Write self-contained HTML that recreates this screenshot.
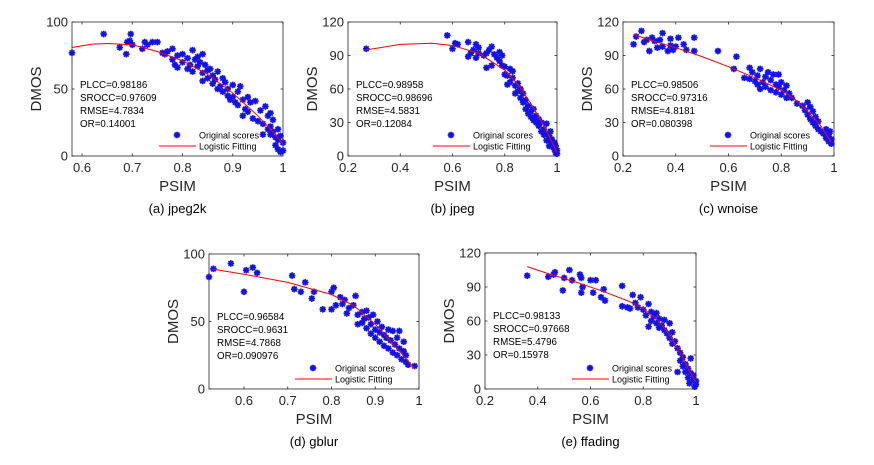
<!DOCTYPE html>
<html><head><meta charset="utf-8"><style>
html,body{margin:0;padding:0;background:#fff;}
svg{display:block;font-family:"Liberation Sans",Arial,sans-serif;}
</style></head><body>
<svg id="chart" width="874" height="465" viewBox="0 0 874 465" xmlns="http://www.w3.org/2000/svg"></svg>
<script>
// ---- data ----
const panelNames = ["(a) jpeg2k","(b) jpeg","(c) wnoise","(d) gblur","(e) ffading"];
const statsA = ["PLCC=0.98186","SROCC=0.97609","RMSE=4.7834","OR=0.14001"];
const statsB = ["PLCC=0.98958","SROCC=0.98696","RMSE=4.5831","OR=0.12084"];
const statsC = ["PLCC=0.98506","SROCC=0.97316","RMSE=4.8181","OR=0.080398"];
const statsD = ["PLCC=0.96584","SROCC=0.9631","RMSE=4.7868","OR=0.090976"];
const statsE = ["PLCC=0.98133","SROCC=0.97668","RMSE=5.4796","OR=0.15978"];
const xTicksA = [0.6,0.7,0.8,0.9,1];
const xTicksB = [0.2,0.4,0.6,0.8,1];
const xTicksD = [0.6,0.7,0.8,0.9,1];
const yTicks100 = [0,50,100];
const yTicks120 = [0,30,60,90,120];

const pointsA = [[0.58,77],[0.643,91],[0.675,81],[0.688,76],[0.69,85],[0.695,86],[0.697,91],[0.70,83],[0.72,80],[0.725,85],[0.73,83],[0.74,85],[0.75,85],[0.76,77],[0.765,76],[0.77,78],[0.78,80],[0.78,72],[0.785,68],[0.79,66],[0.79,75],[0.80,76],[0.80,70],[0.81,73],[0.81,65],[0.815,68],[0.82,79],[0.82,63],[0.825,72],[0.83,74],[0.83,67],[0.835,70],[0.84,76],[0.84,62],[0.84,56],[0.845,68],[0.85,64],[0.85,58],[0.855,65],[0.86,60],[0.86,54],[0.865,57],[0.87,63],[0.87,50],[0.875,52],[0.88,58],[0.88,48],[0.885,55],[0.89,45],[0.89,50],[0.895,42],[0.90,53],[0.90,44],[0.905,40],[0.91,48],[0.91,38],[0.915,52],[0.92,42],[0.92,30],[0.925,35],[0.93,44],[0.93,33],[0.935,40],[0.94,28],[0.945,41],[0.95,26],[0.955,34],[0.96,24],[0.965,37],[0.97,30],[0.97,20],[0.975,32],[0.975,22],[0.98,18],[0.98,27],[0.985,14],[0.985,8],[0.99,12],[0.99,5],[0.995,15],[0.995,3],[1,10],[1,4],[0.975,16],[0.99,20],[0.96,16]];
const fitA = [[0.58,81],[0.62,83.5],[0.65,84],[0.7,83],[0.75,78],[0.8,71],[0.85,61],[0.9,47],[0.95,30],[0.98,18],[1,9]];

const pointsB = [[0.27,96],[0.58,108],[0.60,96],[0.61,101],[0.62,100],[0.66,102],[0.66,89],[0.67,92],[0.68,95],[0.69,100],[0.69,88],[0.70,92],[0.70,97],[0.72,90],[0.73,92],[0.73,79],[0.74,95],[0.75,98],[0.75,81],[0.76,91],[0.77,88],[0.78,93],[0.78,85],[0.79,90],[0.79,81],[0.80,73],[0.80,80],[0.81,72],[0.81,64],[0.82,78],[0.82,66],[0.83,76],[0.83,70],[0.84,63],[0.84,56],[0.85,65],[0.85,58],[0.86,52],[0.86,60],[0.87,48],[0.87,56],[0.88,50],[0.88,42],[0.89,45],[0.89,38],[0.90,40],[0.90,35],[0.91,42],[0.91,32],[0.92,30],[0.92,36],[0.93,27],[0.93,33],[0.94,30],[0.94,22],[0.95,24],[0.95,19],[0.96,20],[0.96,29],[0.97,14],[0.97,18],[0.975,22],[0.98,10],[0.98,15],[0.985,8],[0.99,6],[0.99,12],[0.995,3],[1,2],[1,5],[0.995,9],[0.97,9],[0.96,14]];
const fitB = [[0.27,95],[0.4,100],[0.52,101],[0.6,99],[0.7,92],[0.8,77],[0.85,64],[0.9,47],[0.95,27],[0.98,13],[1,3]];

const pointsC = [[0.24,100],[0.25,107],[0.27,112],[0.28,102],[0.29,104],[0.30,94],[0.31,106],[0.32,103],[0.33,97],[0.34,104],[0.35,110],[0.35,98],[0.37,94],[0.38,105],[0.38,99],[0.39,95],[0.40,98],[0.41,106],[0.43,100],[0.44,95],[0.47,106],[0.47,94],[0.56,94],[0.62,78],[0.63,89],[0.66,70],[0.68,69],[0.68,79],[0.69,75],[0.70,67],[0.71,72],[0.71,64],[0.72,60],[0.72,78],[0.73,66],[0.74,62],[0.74,71],[0.75,75],[0.76,68],[0.76,59],[0.77,73],[0.78,64],[0.78,57],[0.79,73],[0.79,62],[0.80,66],[0.80,55],[0.81,59],[0.82,63],[0.82,52],[0.83,56],[0.84,52],[0.86,47],[0.88,45],[0.89,41],[0.90,48],[0.90,37],[0.91,44],[0.91,33],[0.92,40],[0.92,30],[0.93,35],[0.93,27],[0.94,31],[0.94,24],[0.95,22],[0.96,20],[0.97,24],[0.97,16],[0.98,19],[0.98,13],[0.99,11],[0.99,15],[0.985,22]];
const fitC = [[0.24,109],[0.3,104],[0.4,97],[0.5,89],[0.6,80],[0.7,70],[0.8,59],[0.85,51],[0.9,40],[0.95,27],[0.99,12]];

const pointsD = [[0.52,83],[0.53,89],[0.57,93],[0.60,72],[0.605,88],[0.62,90],[0.63,86],[0.71,84],[0.715,74],[0.73,72],[0.74,79],[0.755,67],[0.76,72],[0.78,59],[0.80,59],[0.80,72],[0.805,75],[0.81,62],[0.82,68],[0.825,63],[0.83,66],[0.835,56],[0.84,60],[0.85,62],[0.855,69],[0.86,48],[0.86,55],[0.87,57],[0.87,49],[0.875,52],[0.88,58],[0.88,45],[0.885,53],[0.89,48],[0.89,41],[0.895,55],[0.90,44],[0.90,38],[0.905,50],[0.91,42],[0.91,35],[0.915,46],[0.92,40],[0.92,32],[0.925,38],[0.93,44],[0.93,30],[0.935,36],[0.94,27],[0.94,43],[0.945,33],[0.95,25],[0.955,43],[0.955,30],[0.96,22],[0.965,28],[0.97,20],[0.97,25],[0.975,18],[0.99,17],[0.965,35],[0.95,38]];
const fitD = [[0.525,89],[0.6,85],[0.7,79],[0.8,70],[0.85,62],[0.9,48],[0.95,30],[0.99,15]];

const pointsE = [[0.36,100],[0.44,99],[0.46,101],[0.465,103],[0.495,87],[0.50,98],[0.52,105],[0.53,96],[0.56,101],[0.565,85],[0.565,98],[0.57,90],[0.60,96],[0.61,85],[0.62,96],[0.64,81],[0.65,88],[0.655,78],[0.72,91],[0.72,73],[0.74,72],[0.75,71],[0.76,83],[0.77,76],[0.78,72],[0.79,81],[0.80,70],[0.81,65],[0.82,75],[0.82,55],[0.83,68],[0.83,60],[0.84,64],[0.85,67],[0.85,58],[0.86,62],[0.86,54],[0.87,56],[0.88,52],[0.88,61],[0.89,49],[0.90,58],[0.90,45],[0.91,50],[0.91,40],[0.92,42],[0.93,36],[0.93,15],[0.94,32],[0.94,25],[0.95,28],[0.95,20],[0.96,22],[0.96,15],[0.97,18],[0.97,10],[0.98,14],[0.98,27],[0.99,8],[0.99,12],[1,4],[1,7],[0.995,2],[0.975,5]];
const fitE = [[0.36,108],[0.45,101],[0.55,94],[0.65,86],[0.75,77],[0.8,71],[0.85,62],[0.9,48],[0.95,28],[0.97,18],[1,6]];

// ---- layout ----
const panels = [
  {key:"a",L:72,R:283,T:22,B:156,x0:0.58,x1:1,y1:100,xt:xTicksA,yt:yTicks100,pts:pointsA,fit:fitA,stats:statsA,cap:panelNames[0]},
  {key:"b",L:348,R:557,T:22,B:156,x0:0.2,x1:1,y1:120,xt:xTicksB,yt:yTicks120,pts:pointsB,fit:fitB,stats:statsB,cap:panelNames[1]},
  {key:"c",L:623,R:834,T:22,B:156,x0:0.2,x1:1,y1:120,xt:xTicksB,yt:yTicks120,pts:pointsC,fit:fitC,stats:statsC,cap:panelNames[2]},
  {key:"d",L:209,R:419,T:254,B:389,x0:0.52,x1:1,y1:100,xt:xTicksD,yt:yTicks100,pts:pointsD,fit:fitD,stats:statsD,cap:panelNames[3]},
  {key:"e",L:485,R:696,T:253,B:389,x0:0.2,x1:1,y1:120,xt:xTicksB,yt:yTicks120,pts:pointsE,fit:fitE,stats:statsE,cap:panelNames[4]}
];
const NS="http://www.w3.org/2000/svg";
const svg=document.getElementById("chart");
function mk(tag,attrs,parent){const e=document.createElementNS(NS,tag);for(const k in attrs)e.setAttribute(k,attrs[k]);(parent||svg).appendChild(e);return e;}
function fmt(v){return String(v);}

panels.forEach(p=>{
  const g=mk("g",{});
  
  
  const sx=v=>p.L+(v-p.x0)/(p.x1-p.x0)*(p.R-p.L);
  const sy=v=>p.B-v/p.y1*(p.B-p.T);
  const box=mk("rect",{x:p.L,y:p.T,width:p.R-p.L,height:p.B-p.T,fill:"#fff",stroke:"#262626","stroke-width":0.8},g);
  
  
  p.xt.forEach(v=>{
    const x=sx(v);
    mk("line",{x1:x,y1:p.B,x2:x,y2:p.B-2.5,stroke:"#262626","stroke-width":0.8},g);
    mk("line",{x1:x,y1:p.T,x2:x,y2:p.T+2.5,stroke:"#262626","stroke-width":0.8},g);
    const t=mk("text",{x:x,y:p.B+16,"text-anchor":"middle","font-size":13,fill:"#262626"},g);
    t.textContent=fmt(v);
    
    
  });
  p.yt.forEach(v=>{
    const y=sy(v);
    mk("line",{x1:p.L,y1:y,x2:p.L+2.5,y2:y,stroke:"#262626","stroke-width":0.8},g);
    mk("line",{x1:p.R,y1:y,x2:p.R-2.5,y2:y,stroke:"#262626","stroke-width":0.8},g);
    const t=mk("text",{x:p.L-4,y:y+4.5,"text-anchor":"end","font-size":13,fill:"#262626"},g);
    t.textContent=String(v);
    
    
  });
  p.pts.forEach(pt=>{
    const x=sx(pt[0]),y=sy(pt[1]);
    const s=mk("path",{d:`M${x-3.3},${y}H${x+3.3}M${x},${y-3.3}V${y+3.3}M${x-2.4},${y-2.4}L${x+2.4},${y+2.4}M${x-2.4},${y+2.4}L${x+2.4},${y-2.4}`,stroke:"#1010f0","stroke-width":1.7,fill:"none"},g);
    
    
  });
  const fl=mk("polyline",{points:p.fit.map(q=>sx(q[0])+","+sy(q[1])).join(" "),fill:"none",stroke:"#ff0000","stroke-width":1},g);
  
  
  p.stats.forEach((s,i)=>{
    const t=mk("text",{x:p.L+8,y:p.T+66+i*13,"font-size":9.8,fill:"#000"},g);
    t.textContent=s;
    
    
  });
  const ls=p.R-124, ly1=p.B-21, ly2=p.B-10;
  const lm=mk("path",{d:`M${ls+18-3.3},${ly1}H${ls+18+3.3}M${ls+18},${ly1-3.3}V${ly1+3.3}M${ls+15.6},${ly1-2.4}L${ls+20.4},${ly1+2.4}M${ls+15.6},${ly1+2.4}L${ls+20.4},${ly1-2.4}`,stroke:"#1010f0","stroke-width":1.7,fill:"none"},g);
  
  
  const t1=mk("text",{x:ls+40,y:ly1+3.5,"font-size":9,fill:"#000"},g);
  t1.textContent="Original scores";
  
  
  const ll=mk("line",{x1:ls,y1:ly2,x2:ls+37,y2:ly2,stroke:"#ff0000","stroke-width":1},g);
  
  
  const t2=mk("text",{x:ls+40,y:ly2+3.5,"font-size":9,fill:"#000"},g);
  t2.textContent="Logistic Fitting";
  
  
  const cx=(p.L+p.R)/2, cy=(p.T+p.B)/2;
  const xl=mk("text",{x:cx,y:p.B+35,"text-anchor":"middle","font-size":15,fill:"#262626"},g);
  xl.textContent="PSIM";
  
  
  const yl=mk("text",{x:p.L-31,y:cy,"text-anchor":"middle","font-size":15,fill:"#262626",transform:`rotate(-90 ${p.L-31} ${cy})`},g);
  yl.textContent="DMOS";
  
  
  const cp=mk("text",{x:cx,y:p.B+57,"text-anchor":"middle","font-size":13,fill:"#000"},g);
  cp.textContent=p.cap;
  
  
});
</script>
</body></html>
